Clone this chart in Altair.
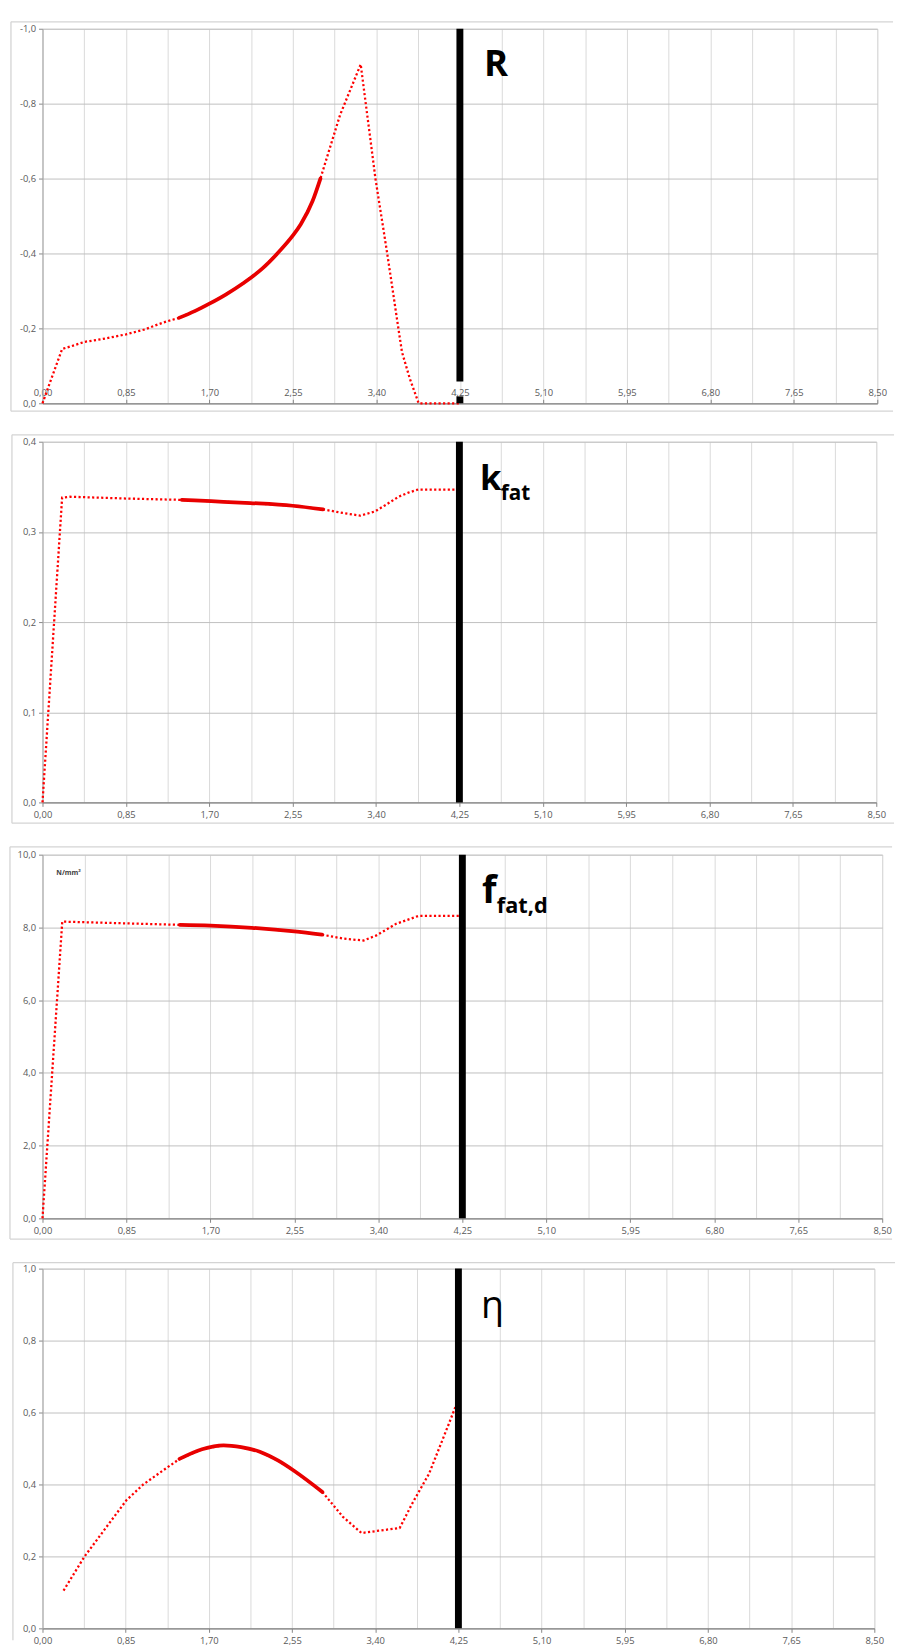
import altair as alt
import pandas as pd

# ---------------- data ----------------
x_ticks = [0.00, 0.85, 1.70, 2.55, 3.40, 4.25, 5.10, 5.95, 6.80, 7.65, 8.50]
x_grid = [0.0, 0.425, 0.85, 1.275, 1.7, 2.125, 2.55, 2.975, 3.4, 3.825, 4.25,
          4.675, 5.1, 5.525, 5.95, 6.375, 6.8, 7.225, 7.65, 8.075, 8.5]
limit_x = [4.25]
solid_range = [1.39, 2.86]

r_x = [0.0, 0.2, 0.3, 0.43, 0.6, 0.85, 1.04, 1.17, 1.27, 1.39, 1.55, 1.70, 1.87, 2.04,
       2.24, 2.41, 2.55, 2.63, 2.75, 2.83, 3.03, 3.24, 3.39, 3.51, 3.61, 3.66, 3.74, 3.83, 4.25]
r_y = [0.0, -0.145, -0.153, -0.164, -0.171, -0.184, -0.197, -0.21, -0.219, -0.228, -0.246,
       -0.266, -0.291, -0.32, -0.36, -0.405, -0.448, -0.478, -0.54, -0.60, -0.77, -0.905,
       -0.60, -0.40, -0.224, -0.137, -0.066, 0.0, 0.0]

k_x = [0.0, 0.2, 0.28, 0.85, 1.42, 1.72, 2.12, 2.55, 2.86, 3.06, 3.24, 3.39, 3.5, 3.63, 3.73, 3.83, 4.25]
k_y = [0.0, 0.338, 0.339, 0.337, 0.3355, 0.334, 0.332, 0.329, 0.325, 0.321, 0.318, 0.3227,
       0.330, 0.339, 0.3435, 0.347, 0.347]

f_x = [0.0, 0.2, 0.86, 1.39, 1.70, 2.12, 2.55, 2.83, 3.05, 3.25, 3.38, 3.58, 3.81, 4.25]
f_y = [0.0, 8.16, 8.11, 8.07, 8.05, 7.99, 7.89, 7.80, 7.69, 7.64, 7.78, 8.10, 8.32, 8.32]

e_x = [0.215, 0.43, 0.857, 1.03, 1.30, 1.40, 1.63, 1.85, 2.03, 2.22, 2.41, 2.57, 2.86,
       3.07, 3.26, 3.45, 3.65, 3.78, 3.95, 4.15, 4.24]
e_y = [0.105, 0.2, 0.356, 0.40, 0.452, 0.471, 0.498, 0.509, 0.504, 0.491, 0.466, 0.438,
       0.379, 0.31, 0.265, 0.272, 0.279, 0.348, 0.43, 0.567, 0.63]

r_ticks = [-1.0, -0.8, -0.6, -0.4, -0.2, 0.0]
k_ticks = [0.0, 0.1, 0.2, 0.3, 0.4]
f_ticks = [0.0, 2.0, 4.0, 6.0, 8.0, 10.0]
e_ticks = [0.0, 0.2, 0.4, 0.6, 0.8, 1.0]

symbols = ["R", "k", "f", "η"]
subscripts = ["", "fat", "fat,d", ""]
unit_label = ["N/mm²"]

# ---------------- styles ----------------
FONT = "Open Sans"
RED = "#ff0000"
BORDER = "#d4d4d4"

X_LABEL = "abs(round(datum.value*1000) % 850) < 1 ? replace(format(datum.value, '.2f'), '.', ',') : ''"
X_TICK_HIDE = "abs(round(datum.value*1000) % 850) >= 1"
Y_LABEL = "(datum.value < 0 ? '-' : '') + replace(format(abs(datum.value), '.1f'), '.', ',')"


def x_axis(top=False, H=0):
    kw = dict(
        values=x_grid, grid=True, gridColor="#d9d9d9", gridWidth=1,
        domainColor="#868686", domainWidth=1.3,
        tickColor="#868686", tickSize=4,
        tickOpacity={"condition": {"test": X_TICK_HIDE, "value": 0}, "value": 1},
        labelExpr=X_LABEL, labelFont=FONT, labelFontSize=9.5, labelColor="#595959",
        labelFlush=False, labelOverlap=False, labelPadding=2, title=None,
    )
    if top:
        kw.update(orient="top", offset=-H)
    else:
        kw.update(orient="bottom", labelPadding=3)
    return alt.Axis(**kw)


def y_axis(ticks):
    return alt.Axis(
        values=ticks, grid=True, gridColor="#bfbfbf", gridWidth=1,
        domainColor="#a6a6a6", domainWidth=1, tickColor="#868686", tickSize=4,
        labelExpr=Y_LABEL, labelFont=FONT, labelFontSize=9.5, labelColor="#595959",
        labelPadding=3, labelOverlap=False, title=None,
    )


def panel(xs, ys, ydom, yticks, W, H, left, top, bottom, texts,
          reverse=False, x_top=False, split_rule=False, bottom_border=True, unit=False):
    df = pd.DataFrame({"x": xs, "y": ys})
    solid = df[(df.x >= solid_range[0]) & (df.x <= solid_range[1])]
    xs_ = alt.Scale(domain=[0, 8.5], nice=False, zero=False)
    ys_ = alt.Scale(domain=ydom, nice=False, zero=False, reverse=reverse)

    dotted = alt.Chart(df).mark_line(
        color=RED, strokeWidth=2.3, strokeDash=[2.2, 2.4], strokeCap="butt"
    ).encode(
        x=alt.X("x:Q", scale=xs_, axis=x_axis(x_top, H)),
        y=alt.Y("y:Q", scale=ys_, axis=y_axis(yticks)),
    )
    solid_line = alt.Chart(solid).mark_line(
        color="#e80000", strokeWidth=3.8, strokeCap="round", interpolate="monotone"
    ).encode(x=alt.X("x:Q", scale=xs_), y=alt.Y("y:Q", scale=ys_))

    rdf = pd.DataFrame({"x": limit_x})
    if split_rule:
        rule = alt.Chart(rdf).mark_rule(color="black", strokeWidth=7).encode(
            x=alt.X("x:Q", scale=xs_), y=alt.value(0), y2=alt.value(H - 22))
        stub = alt.Chart(rdf).mark_rule(color="black", strokeWidth=7).encode(
            x=alt.X("x:Q", scale=xs_), y=alt.value(H - 7), y2=alt.value(H))
        rules = [rule, stub]
    else:
        rules = [alt.Chart(rdf).mark_rule(color="black", strokeWidth=7).encode(
            x=alt.X("x:Q", scale=xs_), y=alt.value(0), y2=alt.value(H))]

    text_layers = []
    for (t, px, py, size, weight) in texts:
        text_layers.append(
            alt.Chart(pd.DataFrame({"t": [t]})).mark_text(
                font=FONT, fontSize=size, fontWeight=weight, align="left",
                baseline="alphabetic", color="black"
            ).encode(text="t:N", x=alt.value(px), y=alt.value(py))
        )
    if unit:
        text_layers.append(
            alt.Chart(pd.DataFrame({"t": unit_label})).mark_text(
                font=FONT, fontSize=7, fontWeight="bold", align="left",
                baseline="middle", color="#404040"
            ).encode(text="t:N", x=alt.value(14), y=alt.value(19))
        )

    bdf = pd.DataFrame({"a": [0]})
    right = 903 - (8 + left)
    borders = [
        alt.Chart(bdf).mark_rule(color=BORDER, strokeWidth=1.3).encode(
            x=alt.value(-left), x2=alt.value(right), y=alt.value(-top)),
        alt.Chart(bdf).mark_rule(color=BORDER, strokeWidth=1.3).encode(
            x=alt.value(-left), y=alt.value(-top),
            y2=alt.value(bottom if bottom_border else H + 12)),
    ]
    if bottom_border:
        borders.append(
            alt.Chart(bdf).mark_rule(color=BORDER, strokeWidth=1.3).encode(
                x=alt.value(-left), x2=alt.value(right), y=alt.value(bottom)))

    return alt.layer(dotted, solid_line, *rules, *text_layers, *borders).properties(
        width=W, height=H)


p1 = panel(r_x, r_y, [-1, 0], r_ticks, 847, 380, 32, 7, 388,
           [(symbols[0], 448, 48, 37, "bold")],
           reverse=True, x_top=True, split_rule=True)
p2 = panel(k_x, k_y, [0, 0.4], k_ticks, 846, 366, 31, 7, 387,
           [(symbols[1], 444, 49, 35, "bold"), (subscripts[1], 465, 59, 21, "bold")])
p3 = panel(f_x, f_y, [0, 10], f_ticks, 852, 369, 33, 8, 390,
           [(symbols[2], 446, 49, 38, "bold"), (subscripts[2], 461, 59, 22, "bold")],
           unit=True)
p4 = panel(e_x, e_y, [0, 1], e_ticks, 844, 365, 30, 6, 0,
           [(symbols[3], 445, 50, 38, "normal")], bottom_border=False)

chart = alt.vconcat(p1, p2, p3, p4, spacing=20).resolve_scale(
    x="independent", y="independent"
).properties(
    padding={"left": 0, "top": 0, "right": 0, "bottom": 0}
).configure_view(stroke=None).configure(background="white")

chart.save("out.html", embed_options={"renderer": "svg", "actions": False})
